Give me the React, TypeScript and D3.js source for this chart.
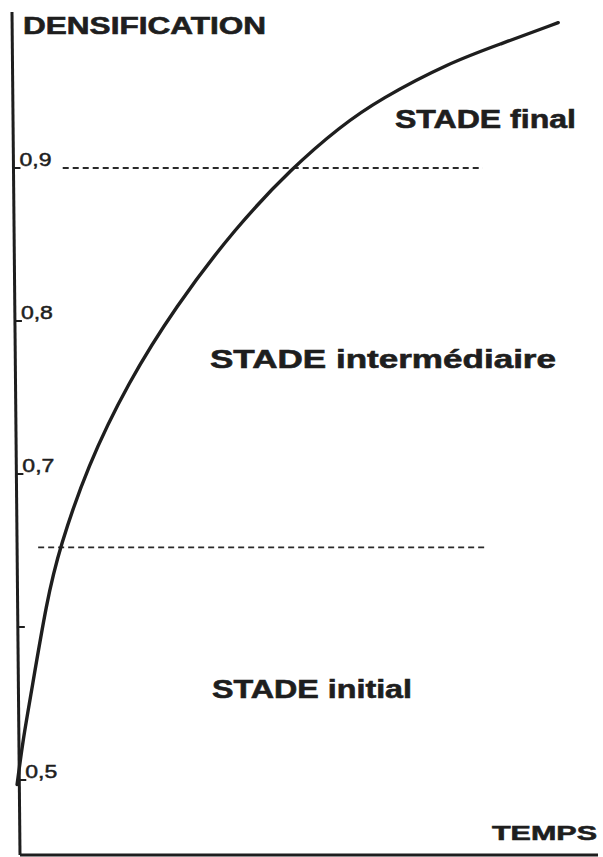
import React, { useEffect, useRef } from 'react';
import * as d3 from 'd3';

// readings (time in arbitrary units, densification as fraction)
const temps = [0.7, 1.7, 2.9, 5.8, 8.0, 12.7, 19.7, 27.7, 38.0, 47.7, 55.9, 62.7, 74.7, 83.3, 93.2];
const densification = [0.497, 0.526, 0.552, 0.618, 0.652, 0.705, 0.76, 0.809, 0.861, 0.9, 0.927, 0.945, 0.969, 0.981, 0.995];

const tickValues = [0.5, 0.6, 0.7, 0.8, 0.9];
const tickLabels = ['0,5', '', '0,7', '0,8', '0,9'];

// stage boundaries (dashed lines)
const stageLimits = [0.652, 0.9];
const stageLimitSpan = [[4.3, 81], [8.5, 80.3]];

const stageNames = ['STADE initial', 'STADE intermédiaire', 'STADE final'];

const W = 603;
const H = 857;

const App: React.FC = () => {
    const svgRef = useRef<SVGSVGElement>(null);

    useEffect(() => {
        if (!svgRef.current) return;
        const svg = d3.select(svgRef.current);
        svg.selectAll('*').remove();

        const x = d3.scaleLinear().domain([0, 100]).range([13, 598]);
        const y = d3.scaleLinear().domain([0.5, 0.9]).range([780, 168]);

        const ink = '#1e1e1e';
        const font = '"Liberation Sans", Arial, sans-serif';

        // the scanned y axis leans a little to the right going down
        const axisTop = 12;
        const axisBottom = 855;
        const axisX = (py: number) => 12 + (py - axisTop) * (8 / (axisBottom - axisTop));

        svg.append('rect').attr('width', W).attr('height', H).attr('fill', '#fff');

        // axes
        svg.append('line')
            .attr('x1', axisX(axisTop)).attr('y1', axisTop)
            .attr('x2', axisX(axisBottom)).attr('y2', axisBottom)
            .attr('stroke', ink).attr('stroke-width', 3);
        svg.append('line')
            .attr('x1', axisX(axisBottom)).attr('y1', axisBottom)
            .attr('x2', 598).attr('y2', axisBottom)
            .attr('stroke', ink).attr('stroke-width', 3);

        // ticks + labels
        const ticks = svg.append('g');
        tickValues.forEach((v, i) => {
            const py = y(v);
            ticks.append('line')
                .attr('x1', axisX(py)).attr('y1', py)
                .attr('x2', axisX(py) + 7).attr('y2', py)
                .attr('stroke', ink).attr('stroke-width', 2);
            if (tickLabels[i]) {
                ticks.append('text')
                    .attr('x', axisX(py) + 6)
                    .attr('y', py - 2)
                    .attr('font-family', font)
                    .attr('font-size', 19)
                    .attr('fill', ink)
                    .attr('stroke', ink)
                    .attr('stroke-width', 0.5)
                    .attr('textLength', 32)
                    .attr('lengthAdjust', 'spacingAndGlyphs')
                    .text(tickLabels[i]);
            }
        });

        // dashed stage limits
        stageLimits.forEach((v, i) => {
            svg.append('line')
                .attr('x1', x(stageLimitSpan[i][0]))
                .attr('x2', x(stageLimitSpan[i][1]))
                .attr('y1', y(v)).attr('y2', y(v))
                .attr('stroke', '#2a2a2a')
                .attr('stroke-width', 1.8)
                .attr('stroke-dasharray', '6,4');
        });

        // densification curve
        const line = d3.line<number>()
            .x((_, i) => x(temps[i]))
            .y(d => y(d))
            .curve(d3.curveBasis);

        svg.append('path')
            .datum(densification)
            .attr('d', line)
            .attr('fill', 'none')
            .attr('stroke', ink)
            .attr('stroke-width', 3.4)
            .attr('stroke-linecap', 'round');

        // text labels
        const label = (txt: string, lx: number, ly: number, size: number, len: number) =>
            svg.append('text')
                .attr('x', lx).attr('y', ly)
                .attr('font-family', font)
                .attr('font-weight', 'bold')
                .attr('font-size', size)
                .attr('fill', ink)
                .attr('stroke', ink)
                .attr('stroke-width', 0.6)
                .attr('textLength', len)
                .attr('lengthAdjust', 'spacingAndGlyphs')
                .text(txt);

        label('DENSIFICATION', 23, 34, 23, 243);
        label('TEMPS', 492, 840, 21, 105);
        label(stageNames[2], 395, 128, 25, 181);
        label(stageNames[1], 210, 368, 25, 346);
        label(stageNames[0], 212, 698, 25, 200);
    }, []);

    return (
        <svg
            ref={svgRef}
            width={W}
            height={H}
            style={{ position: 'absolute', left: 0, top: 0, display: 'block' }}
        />
    );
};

export default App;
